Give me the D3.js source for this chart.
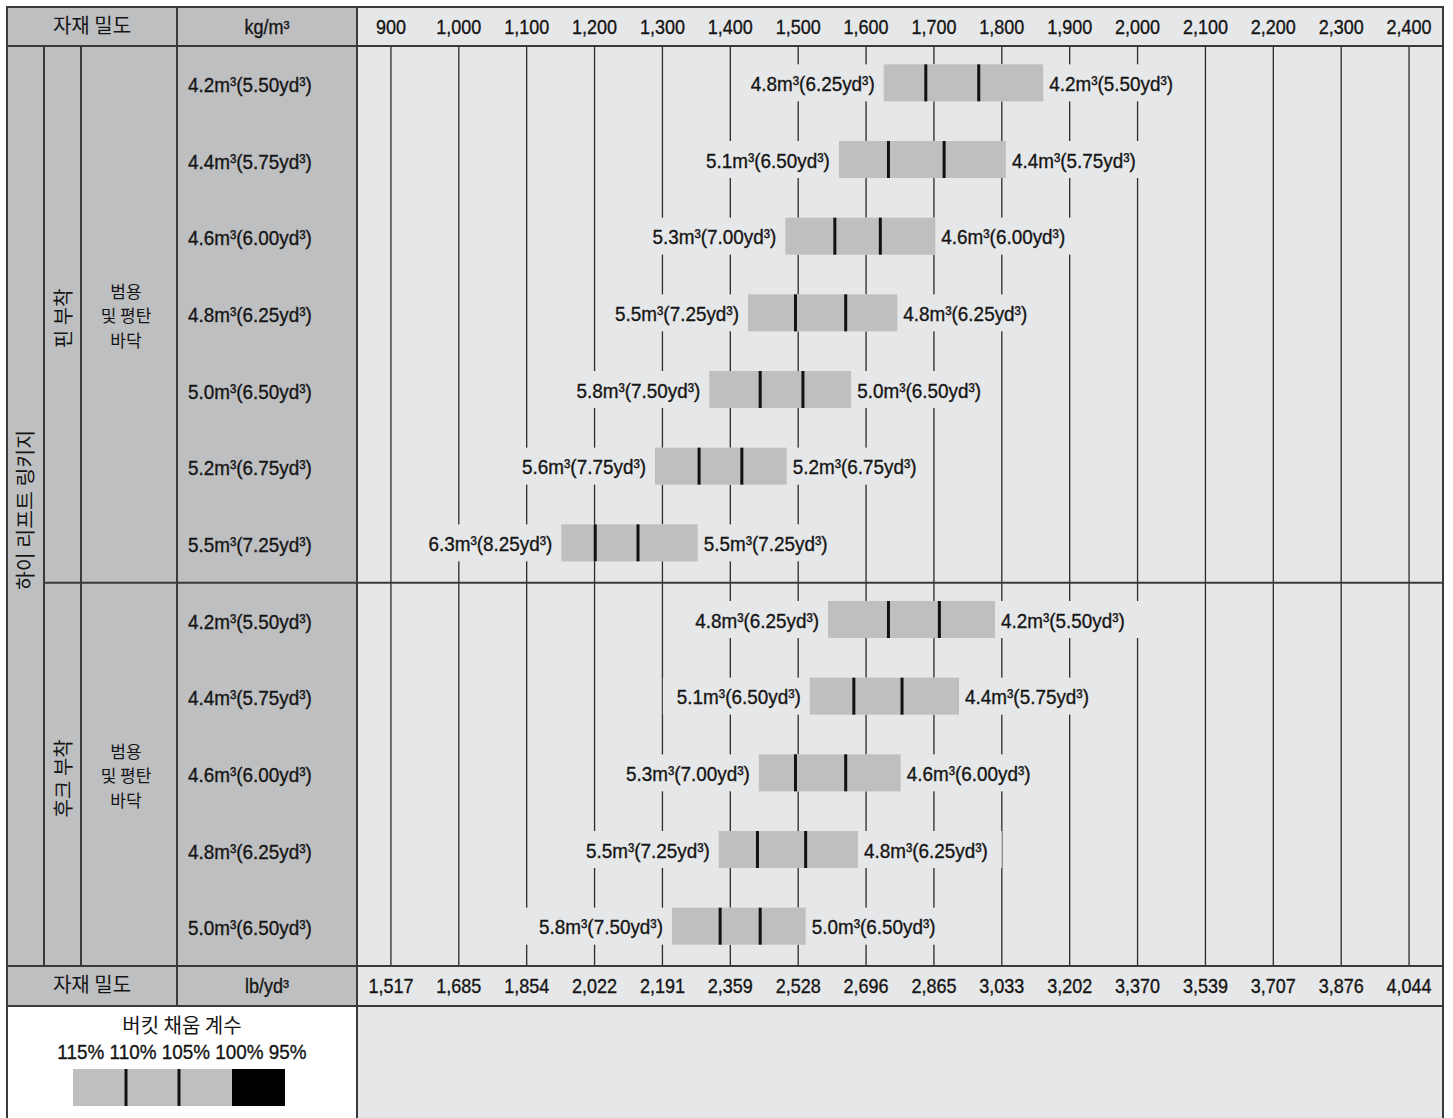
<!DOCTYPE html>
<html>
<head>
<meta charset="utf-8">
<script src="https://cdn.jsdelivr.net/npm/d3@7"></script>
<style>
  body { margin: 0; background: #fff; }
  text { fill: #151515; }
  text.num { stroke: #151515; stroke-width: 0.35px; }
</style>
</head>
<body>
<svg id="chart" width="1453" height="1118"></svg>
<script>
(function () {
    'use strict';

    // ---- data ----
    const kgTicks = [900, 1000, 1100, 1200, 1300, 1400, 1500, 1600, 1700, 1800, 1900, 2000, 2100, 2200, 2300, 2400];
    const lbTickLabels = ["1,517", "1,685", "1,854", "2,022", "2,191", "2,359", "2,528", "2,696",
        "2,865", "3,033", "3,202", "3,370", "3,539", "3,707", "3,876", "4,044"];
    const fillFactors = [115, 110, 105, 100, 95];

    const groupNames = ["핀 부착", "후크 부착"];
    const groupRows = [7, 5];
    const bucketUse = ["범용", "및 평탄", "바닥"];

    const bucketLabels = [
        "4.2m³(5.50yd³)", "4.4m³(5.75yd³)", "4.6m³(6.00yd³)", "4.8m³(6.25yd³)",
        "5.0m³(6.50yd³)", "5.2m³(6.75yd³)", "5.5m³(7.25yd³)",
        "4.2m³(5.50yd³)", "4.4m³(5.75yd³)", "4.6m³(6.00yd³)", "4.8m³(6.25yd³)", "5.0m³(6.50yd³)"
    ];
    const leftLabels = [
        "4.8m³(6.25yd³)", "5.1m³(6.50yd³)", "5.3m³(7.00yd³)", "5.5m³(7.25yd³)",
        "5.8m³(7.50yd³)", "5.6m³(7.75yd³)", "6.3m³(8.25yd³)",
        "4.8m³(6.25yd³)", "5.1m³(6.50yd³)", "5.3m³(7.00yd³)", "5.5m³(7.25yd³)", "5.8m³(7.50yd³)"
    ];
    // material density (kg/m3) at each bucket fill factor
    const dens115 = [1626, 1560, 1481, 1426, 1369, 1289, 1151, 1544, 1517, 1442, 1383, 1314];
    const dens110 = [1688, 1633, 1554, 1496, 1444, 1354, 1201, 1633, 1582, 1496, 1440, 1385];
    const dens105 = [1766, 1715, 1621, 1570, 1507, 1417, 1264, 1708, 1653, 1570, 1511, 1444];
    const dens100 = [1861, 1806, 1702, 1646, 1578, 1483, 1352, 1790, 1737, 1651, 1588, 1511];

    // ---- layout ----
    const LEFT = 7, TOP = 7, RIGHT = 1443, BOTTOM = 1118;
    const COLS = [7, 44, 81, 177, 357];
    const HEAD_B = 46, BODY_B = 966, AXIS_B = 1006;
    const GRAY = "#bebfc1", LIGHT = "#e6e7e8", LINE = "#3a3a3a";
    const NUM_FONT = "'Liberation Sans', 'Noto Sans CJK KR', sans-serif";
    const KR_FONT = "'Noto Sans CJK KR', sans-serif";

    const svg = d3.select("#chart");

    const x = d3.scaleLinear().domain([850, 2450]).range([COLS[4], RIGHT]);
    const y = d3.scaleBand().domain(d3.range(bucketLabels.length)).range([HEAD_B, BODY_B]);
    const legendX = d3.scaleLinear().domain([115, 95]).range([73, 285]);

    function condText(g, px, py, str, anchor, size) {
        return g.append("text")
            .attr("class", "num")
            .attr("transform", `translate(${px},${py}) scale(0.9,1)`)
            .attr("text-anchor", anchor)
            .attr("dy", "0.36em")
            .style("font-family", NUM_FONT)
            .style("font-size", size + "px")
            .text(str);
    }
    function krText(g, px, py, str, size, rotate) {
        return g.append("text")
            .attr("transform", `translate(${px},${py})` + (rotate ? " rotate(-90)" : ""))
            .attr("text-anchor", "middle")
            .attr("dy", "0.36em")
            .style("font-family", KR_FONT)
            .style("font-size", size + "px")
            .text(str);
    }

    // backgrounds
    svg.append("rect").attr("x", LEFT).attr("y", TOP).attr("width", COLS[4] - LEFT).attr("height", AXIS_B - TOP).attr("fill", GRAY);
    svg.append("rect").attr("x", COLS[4]).attr("y", TOP).attr("width", RIGHT - COLS[4]).attr("height", BOTTOM - TOP).attr("fill", LIGHT);
    svg.append("rect").attr("x", LEFT).attr("y", AXIS_B).attr("width", COLS[4] - LEFT).attr("height", BOTTOM - AXIS_B).attr("fill", "#fff");

    // grid lines
    const grid = svg.append("g");
    grid.selectAll("line").data(kgTicks).join("line")
        .attr("x1", d => x(d)).attr("x2", d => x(d))
        .attr("y1", HEAD_B).attr("y2", BODY_B)
        .attr("stroke", "#2b2b2b").attr("stroke-width", 1.3);

    // rows
    const gapLayer = svg.append("g");
    const barLayer = svg.append("g");
    const labelLayer = svg.append("g");
    const BAR_H = 37;

    bucketLabels.forEach(function (lab, i) {
        const cy = y(i) + y.bandwidth() / 2;
        const by = cy - 1.5 - BAR_H / 2;
        const x0 = x(dens115[i]), x1 = x(dens110[i]), x2 = x(dens105[i]), x3 = x(dens100[i]);

        barLayer.append("rect").attr("x", x0).attr("y", by).attr("width", x3 - x0).attr("height", BAR_H).attr("fill", "#bebfc1");
        [x1, x2].forEach(function (xx) {
            barLayer.append("line").attr("x1", xx).attr("x2", xx).attr("y1", by).attr("y2", by + BAR_H)
                .attr("stroke", "#111").attr("stroke-width", 3);
        });

        condText(labelLayer, COLS[3] + 11, cy, lab, "start", 21);
        const lt = condText(labelLayer, x0 - 9, cy - 1, leftLabels[i], "end", 21);
        const rt = condText(labelLayer, x3 + 6, cy - 1, lab, "start", 21);

        const lb = lt.node().getBoundingClientRect();
        const rb = rt.node().getBoundingClientRect();
        const svgb = svg.node().getBoundingClientRect();
        const gx0 = lb.left - svgb.left - 14, gx1 = rb.right - svgb.left + 14;
        gapLayer.append("rect").attr("x", gx0).attr("y", by).attr("width", gx1 - gx0).attr("height", BAR_H).attr("fill", LIGHT);
    });

    // header and bottom axis
    const axes = svg.append("g");
    kgTicks.forEach(function (v) {
        condText(axes, x(v), (TOP + HEAD_B) / 2, d3.format(",")(v), "middle", 20);
    });
    lbTickLabels.forEach(function (s, i) {
        condText(axes, x(kgTicks[i]), (BODY_B + AXIS_B) / 2, s, "middle", 20);
    });
    krText(axes, (COLS[0] + COLS[3]) / 2, (TOP + HEAD_B) / 2 - 1, "자재 밀도", 20);
    krText(axes, (COLS[0] + COLS[3]) / 2, (BODY_B + AXIS_B) / 2 - 1, "자재 밀도", 20);
    condText(axes, (COLS[3] + COLS[4]) / 2, (TOP + HEAD_B) / 2, "kg/m³", "middle", 20);
    condText(axes, (COLS[3] + COLS[4]) / 2, (BODY_B + AXIS_B) / 2, "lb/yd³", "middle", 20);

    // left category cells
    krText(axes, (COLS[0] + COLS[1]) / 2, (HEAD_B + BODY_B) / 2 + 4, "하이 리프트 링키지", 20.5, true);
    let start = 0;
    groupNames.forEach(function (name, gi) {
        const top = y(start), bot = y(start + groupRows[gi] - 1) + y.bandwidth();
        const mid = (top + bot) / 2;
        krText(axes, (COLS[1] + COLS[2]) / 2 + 1, mid + 4, name, 20, true);
        bucketUse.forEach(function (s, k) {
            krText(axes, (COLS[2] + COLS[3]) / 2 - 3, mid + 2 + (k - 1) * 24.8, s, 17);
        });
        start += groupRows[gi];
    });

    // legend
    const legend = svg.append("g");
    krText(legend, 182, 1026, "버킷 채움 계수", 20);
    condText(legend, 182, 1051, fillFactors.map(d => d + "%").join(" "), "middle", 21);
    const ly = 1069, lh = 37;
    legend.append("rect").attr("x", legendX(115)).attr("y", ly).attr("width", legendX(100) - legendX(115)).attr("height", lh).attr("fill", "#bebfc1");
    legend.append("rect").attr("x", legendX(100)).attr("y", ly).attr("width", legendX(95) - legendX(100)).attr("height", lh).attr("fill", "#000");
    [110, 105].forEach(function (f) {
        legend.append("line").attr("x1", legendX(f)).attr("x2", legendX(f)).attr("y1", ly).attr("y2", ly + lh)
            .attr("stroke", "#111").attr("stroke-width", 3);
    });

    // table borders
    const borders = svg.append("g").attr("stroke", LINE).attr("stroke-width", 2).attr("fill", "none");
    function hline(y0, xa, xb) { borders.append("line").attr("x1", xa).attr("x2", xb).attr("y1", y0).attr("y2", y0); }
    function vline(x0, ya, yb) { borders.append("line").attr("x1", x0).attr("x2", x0).attr("y1", ya).attr("y2", yb); }
    hline(TOP, LEFT - 1, RIGHT + 1);
    hline(HEAD_B, LEFT, RIGHT);
    hline(y(groupRows[0]), COLS[1], RIGHT);
    hline(BODY_B, LEFT, RIGHT);
    hline(AXIS_B, LEFT, RIGHT);
    vline(LEFT, TOP, BOTTOM);
    vline(RIGHT, TOP, BOTTOM);
    vline(COLS[1], HEAD_B, BODY_B);
    vline(COLS[2], HEAD_B, BODY_B);
    vline(COLS[3], TOP, AXIS_B);
    vline(COLS[4], TOP, BOTTOM);
})();
</script>
</body>
</html>
